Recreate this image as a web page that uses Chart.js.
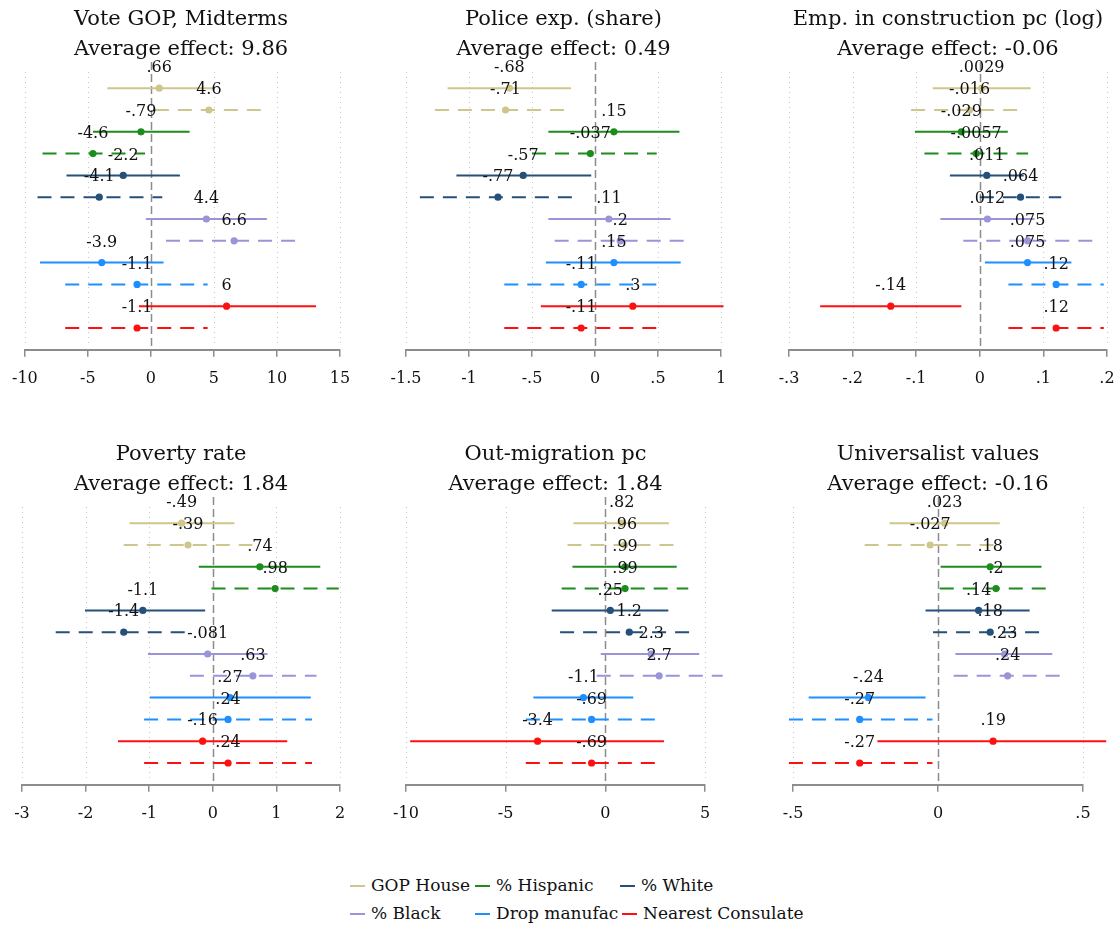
<!DOCTYPE html>
<html lang="en">
<head>
<meta charset="UTF-8">
<script src="https://cdn.jsdelivr.net/npm/chart.js@4.4.1/dist/chart.umd.min.js"></script>
<title>Effects by subgroup</title>
<style>
  body { margin: 0; background: #fff; width: 1117px; height: 930px; position: relative; overflow: hidden; font-family: "DejaVu Serif", serif; }
  canvas { position: absolute; }
  .leg { position: absolute; font-size: 17px; color: #111; white-space: nowrap; line-height: 20px; }
  .leg span.sw { position: absolute; height: 2px; width: 15px; }
</style>
</head>
<body>
<canvas id="c0" style="left:0px;top:0px"></canvas>
<canvas id="c1" style="left:372px;top:0px"></canvas>
<canvas id="c2" style="left:744px;top:0px"></canvas>
<canvas id="c3" style="left:0px;top:435px"></canvas>
<canvas id="c4" style="left:372px;top:435px"></canvas>
<canvas id="c5" style="left:744px;top:435px"></canvas>
<div id="legend"></div>

<script>
// groups (each has a solid and a dashed row)
const groups = ['GOP House', '% Hispanic', '% White', '% Black', 'Drop manufac', 'Nearest Consulate'];
const groupColors = ['#cfc68d', '#1c8c1c', '#24507a', '#9a94d8', '#1e8fff', '#ff1010'];

const titles = ['Vote GOP, Midterms', 'Police exp. (share)', 'Emp. in construction pc (log)',
                'Poverty rate', 'Out-migration pc', 'Universalist values'];
const avgEffect = [9.86, 0.49, -0.06, 1.84, 1.84, -0.16];

// Vote GOP
const vote_est = [0.66, 4.6, -0.79, -4.6, -2.2, -4.1, 4.4, 6.6, -3.9, -1.1, 6, -1.1];
const vote_lo  = [-3.46, 0.31, -4.6, -8.6, -6.7, -9.0, -0.4, 1.2, -8.8, -6.8, -0.95, -6.8];
const vote_hi  = [5.03, 8.8, 3.07, -0.47, 2.3, 0.9, 9.2, 11.8, 1.0, 4.5, 13.1, 4.5];
const vote_ticks = [-10, -5, 0, 5, 10, 15];

// Police exp.
const police_est = [-0.68, -0.71, 0.15, -0.037, -0.57, -0.77, 0.11, 0.2, 0.15, -0.11, 0.3, -0.11];
const police_lo  = [-1.17, -1.27, -0.37, -0.5, -1.10, -1.39, -0.37, -0.32, -0.39, -0.72, -0.43, -0.72];
const police_hi  = [-0.19, -0.2, 0.67, 0.49, -0.03, -0.17, 0.6, 0.71, 0.68, 0.5, 1.02, 0.5];
const police_ticks = [-1.5, -1, -0.5, 0, 0.5, 1];

// Emp. in construction
const emp_est = [0.0029, -0.016, -0.029, -0.0057, 0.011, 0.064, 0.012, 0.075, 0.075, 0.12, -0.14, 0.12];
const emp_lo  = [-0.074, -0.108, -0.102, -0.087, -0.047, 0.0, -0.062, -0.026, 0.008, 0.045, -0.251, 0.045];
const emp_hi  = [0.08, 0.065, 0.044, 0.076, 0.069, 0.128, 0.086, 0.177, 0.144, 0.195, -0.029, 0.195];
const emp_ticks = [-0.3, -0.2, -0.1, 0, 0.1, 0.2];

// Poverty rate
const pov_est = [-0.49, -0.39, 0.74, 0.98, -1.1, -1.4, -0.081, 0.63, 0.27, 0.24, -0.16, 0.24];
const pov_lo  = [-1.31, -1.40, -0.22, -0.02, -2.01, -2.47, -1.02, -0.36, -0.99, -1.08, -1.49, -1.08];
const pov_hi  = [0.34, 0.62, 1.69, 1.98, -0.12, -0.36, 0.86, 1.63, 1.54, 1.56, 1.17, 1.56];
const pov_ticks = [-3, -2, -1, 0, 1, 2];

// Out-migration
const mig_est = [0.82, 0.96, 0.99, 0.99, 0.25, 1.2, 2.3, 2.7, -1.1, -0.69, -3.4, -0.69];
const mig_lo  = [-1.6, -1.9, -1.65, -2.19, -2.69, -2.27, -0.23, -0.43, -3.61, -3.99, -9.79, -3.99];
const mig_hi  = [3.19, 3.63, 3.58, 4.16, 3.16, 4.45, 4.71, 5.89, 1.40, 2.58, 2.94, 2.58];
const mig_ticks = [-10, -5, 0, 5];

// Universalist values
const univ_est = [0.023, -0.027, 0.18, 0.2, 0.14, 0.18, 0.23, 0.24, -0.24, -0.27, 0.19, -0.27];
const univ_lo  = [-0.167, -0.253, 0.009, 0.006, -0.043, -0.017, 0.06, 0.054, -0.446, -0.514, -0.209, -0.514];
const univ_hi  = [0.213, 0.2, 0.357, 0.388, 0.316, 0.362, 0.394, 0.433, -0.043, -0.019, 0.58, -0.019];
const univ_ticks = [-0.5, 0, 0.5];

const FONT = '"DejaVu Serif", "Liberation Serif", serif';

// stata-ish number format: drop leading zero
function fmt(v) {
  return String(v).replace(/^(-?)0\./, '$1.');
}

const panels = [
  { est: vote_est, lo: vote_lo, hi: vote_hi, ticks: vote_ticks, w: 372, padL: 22, padR: 32 },
  { est: police_est, lo: police_lo, hi: police_hi, ticks: police_ticks, w: 372, padL: 34, padR: 23 },
  { est: emp_est, lo: emp_lo, hi: emp_hi, ticks: emp_ticks, w: 393, padL: 45, padR: 30 },
  { est: pov_est, lo: pov_lo, hi: pov_hi, ticks: pov_ticks, w: 372, padL: 22, padR: 32 },
  { est: mig_est, lo: mig_lo, hi: mig_hi, ticks: mig_ticks, w: 372, padL: 34, padR: 39 },
  { est: univ_est, lo: univ_lo, hi: univ_hi, ticks: univ_ticks, w: 373, padL: 49, padR: 34 }
];

// dotted grid + dashed zero line
const gridPlugin = {
  id: 'stataGrid',
  beforeDatasetsDraw(chart) {
    const ctx = chart.ctx, a = chart.chartArea, xs = chart.scales.x;
    ctx.save();
    xs.ticks.forEach(t => {
      const x = Math.round(xs.getPixelForValue(t.value)) + 0.5;
      ctx.beginPath();
      if (t.value === 0) {
        ctx.strokeStyle = '#8c8c8c';
        ctx.lineWidth = 1.5;
        ctx.setLineDash([8, 4]);
        ctx.moveTo(x, a.top - 10);
        ctx.lineTo(x, a.bottom);
      } else {
        ctx.strokeStyle = '#c4c4c4';
        ctx.lineWidth = 1;
        ctx.setLineDash([1, 4]);
        ctx.moveTo(x, a.top);
        ctx.lineTo(x, a.bottom - 7);
      }
      ctx.stroke();
    });
    ctx.restore();
  }
};

// value label above each point
const labelPlugin = {
  id: 'pointLabels',
  afterDatasetsDraw(chart) {
    const ctx = chart.ctx;
    const idx = chart.data.datasets.length - 1;
    const meta = chart.getDatasetMeta(idx);
    const est = chart.data.datasets[idx].data;
    ctx.save();
    ctx.font = '16px ' + FONT;
    ctx.fillStyle = '#111';
    ctx.textAlign = 'center';
    ctx.textBaseline = 'middle';
    meta.data.forEach((el, i) => {
      ctx.fillText(fmt(est[i].x), el.x, el.y - 20);
    });
    ctx.restore();
  }
};

panels.forEach((p, k) => {
  const cv = document.getElementById('c' + k);
  cv.width = p.w;
  cv.height = 406;

  const datasets = [];
  p.est.forEach((v, i) => {
    const g = Math.floor(i / 2);
    datasets.push({
      type: 'line',
      data: [{ x: p.lo[i], y: i + 1 }, { x: p.hi[i], y: i + 1 }],
      borderColor: groupColors[g],
      borderWidth: 2,
      borderDash: i % 2 ? [14, 9] : [],
      pointRadius: 0,
      clip: false
    });
  });
  datasets.push({
    type: 'scatter',
    data: p.est.map((v, i) => ({ x: v, y: i + 1 })),
    backgroundColor: p.est.map((v, i) => groupColors[Math.floor(i / 2)]),
    borderWidth: 0,
    pointRadius: 3.6,
    clip: false
  });

  new Chart(cv, {
    type: 'scatter',
    data: { datasets },
    options: {
      responsive: false,
      animation: false,
      devicePixelRatio: 1,
      layout: { padding: { left: p.padL, right: p.padR, top: 0, bottom: 6 } },
      plugins: {
        legend: { display: false },
        tooltip: { enabled: false },
        title: {
          display: true,
          text: [titles[k], 'Average effect: ' + avgEffect[k].toFixed(2)],
          color: '#111',
          font: { family: FONT, size: 21, weight: 'normal', lineHeight: 1.43 },
          padding: { top: 5, bottom: 7 }
        }
      },
      scales: {
        x: {
          type: 'linear',
          min: p.ticks[0],
          max: p.ticks[p.ticks.length - 1],
          afterBuildTicks: s => { s.ticks = p.ticks.map(v => ({ value: v })); },
          grid: { drawOnChartArea: false, drawTicks: true, tickLength: 7, color: '#8c8c8c', lineWidth: 1.5 },
          border: { color: '#8c8c8c', width: 2 },
          ticks: {
            autoSkip: false, maxRotation: 0, padding: 12,
            color: '#111', font: { family: FONT, size: 16 },
            callback: v => fmt(v)
          }
        },
        y: { type: 'linear', reverse: true, min: 0.26, max: 13, display: false }
      }
    },
    plugins: [gridPlugin, labelPlugin]
  });
});

// legend (two rows)
const legPos = [[350, 875], [475, 875], [620, 875], [350, 903], [475, 903], [622, 903]];
const legDiv = document.getElementById('legend');
groups.forEach((g, i) => {
  const d = document.createElement('div');
  d.className = 'leg';
  d.style.left = legPos[i][0] + 'px';
  d.style.top = legPos[i][1] + 'px';
  d.innerHTML = '<span class="sw" style="background:' + groupColors[i] + ';left:0;top:10px"></span>' +
                '<span style="margin-left:21px">' + g + '</span>';
  legDiv.appendChild(d);
});
</script>
</body>
</html>
